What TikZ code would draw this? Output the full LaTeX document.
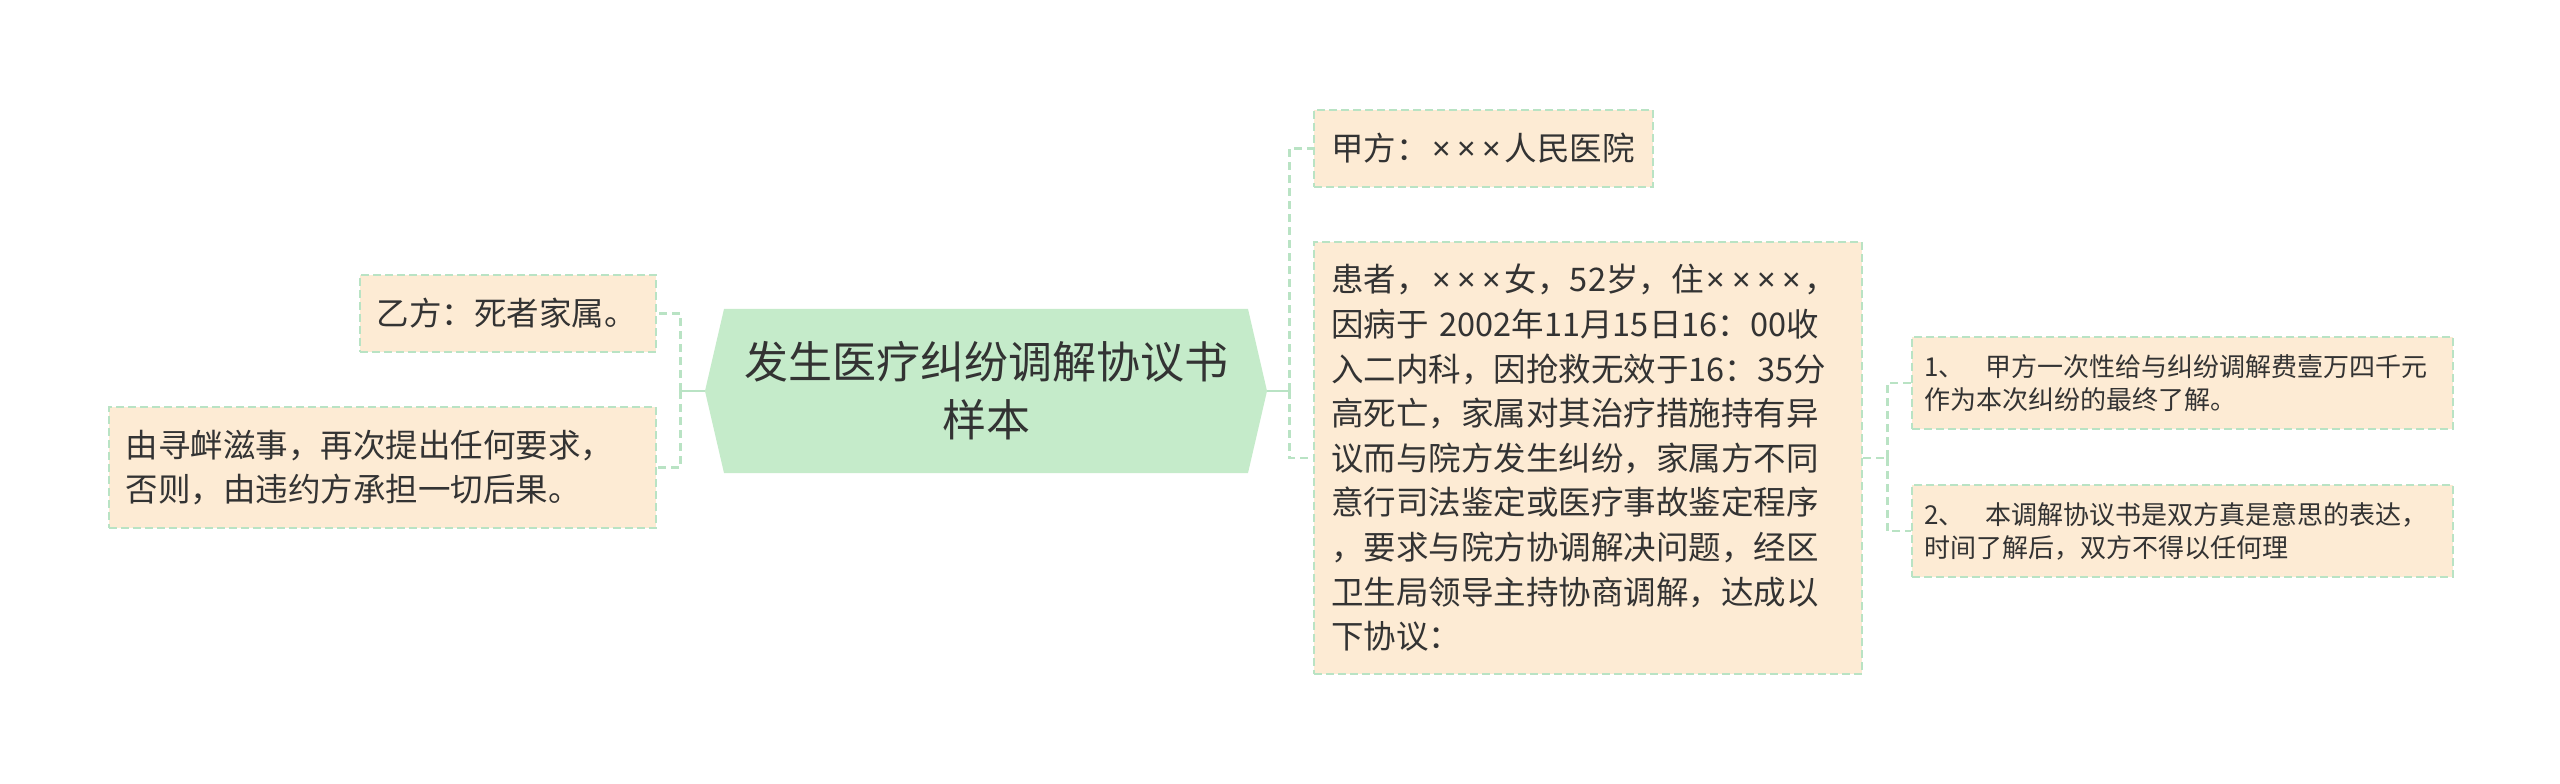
\documentclass[tikz,border=0pt]{standalone}
\usepackage{fontspec}
\setmainfont{Noto Sans CJK SC}
\newfontfamily\latinfont{Noto Sans}
\usetikzlibrary{positioning}

\definecolor{rootgreen}{HTML}{C5EBCA}
\definecolor{leafpeach}{HTML}{FDEBD4}
\definecolor{linegreen}{HTML}{B9E3C4}
\definecolor{textgray}{HTML}{333333}
\newcommand{\timesmark}{\makebox[0.78em]{\latinfont ×}}

\begin{document}
\begin{tikzpicture}[
		root/.style={rectangle, fill=white, inner sep=0pt, minimum width=281pt, minimum height=82pt, align=center, text=textgray, font=\fontsize{22}{29}\selectfont,
		path picture={\fill[rootgreen] (path picture bounding box.west)--([xshift=9.5pt]path picture bounding box.north west)--([xshift=-9.5pt]path picture bounding box.north east)--(path picture bounding box.east)--([xshift=-9.5pt]path picture bounding box.south east)--([xshift=9.5pt]path picture bounding box.south west)--cycle;}},
		leaf/.style={rectangle, draw=linegreen, fill=leafpeach, line width=1pt, dash pattern=on 4pt off 2pt, inner xsep=8.5pt, inner ysep=0pt, align=left, text=textgray, font=\fontsize{16.25}{22.3}\selectfont},
		subleaf/.style={leaf, inner xsep=6pt, font=\fontsize{13}{16.5}\selectfont},
		link/.style={draw=linegreen, line width=1.4pt},
		bus/.style={link, dash pattern=on 4pt off 2.5pt}
	]

	\useasboundingbox (0,0) rectangle (1280pt,391.5pt);

	\node[root] (root) at (493pt,196pt) {发生医疗纠纷调解协议书\\样本};
	\node[leaf, minimum width=148pt, minimum height=38.5pt, text width=131pt, left=24pt of root, yshift=38.75pt] (yi) {乙方：死者家属。};
	\node[leaf, minimum width=273.5pt, minimum height=60.5pt, text width=256.5pt, left=24pt of root, yshift=-38.25pt] (xun) {由寻衅滋事，再次提出任何要求，\\否则，由违约方承担一切后果。};
	\node[leaf, minimum width=169.5pt, minimum height=38.5pt, text width=152.5pt, right=23pt of root, yshift=121.25pt] (jia) {甲方：\timesmark\timesmark\timesmark 人民医院};
	\node[leaf, minimum width=274pt, minimum height=216pt, text width=257pt, right=23pt of root, yshift=-33.5pt] (huan) {患者，\timesmark\timesmark\timesmark 女，52岁，住\timesmark\timesmark\timesmark\timesmark ，\\因病于 2002年11月15日16：00收\\入二内科，因抢救无效于16：35分\\高死亡，家属对其治疗措施持有异\\议而与院方发生纠纷，家属方不同\\意行司法鉴定或医疗事故鉴定程序\\，要求与院方协调解决问题，经区\\卫生局领导主持协商调解，达成以\\下协议：};
	\node[subleaf, minimum width=270.5pt, minimum height=46pt, text width=258.5pt, right=24pt of huan, yshift=37.5pt] (one) {1、\hspace{0.8em}甲方一次性给与纠纷调解费壹万四千元\\作为本次纠纷的最终了解。};
	\node[subleaf, minimum width=270.5pt, minimum height=46pt, text width=258.5pt, right=24pt of huan, yshift=-36.5pt] (two) {2、\hspace{0.8em}本调解协议书是双方真是意思的表达，\\时间了解后，双方不得以任何理};

	\draw[link] (root.west) -- ++(-12pt,0) coordinate (lbus);
	\draw[link] (root.east) -- ++(11pt,0) coordinate (rbus);
	\draw[bus] (huan.east) -- ++(12pt,0) coordinate (hbus);

	\foreach \i/\j in {lbus/yi.east, lbus/xun.east, rbus/jia.west, rbus/huan.west, hbus/one.west, hbus/two.west}
		\draw[bus] (\i) |- (\j);

\end{tikzpicture}
\end{document}
